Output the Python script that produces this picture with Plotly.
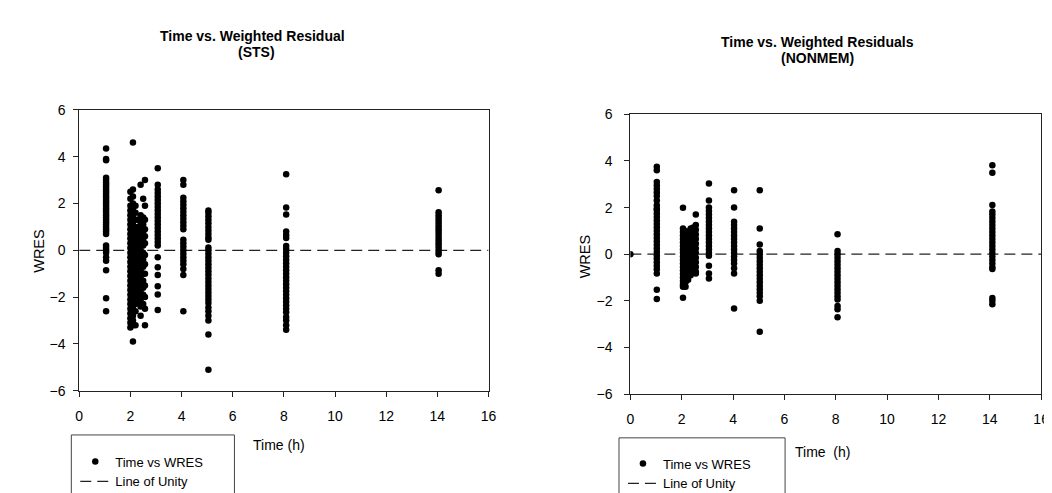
import plotly.graph_objects as go

# ---------------- Data ----------------
# Left panel: STS   (time in h -> WRES values)
sts_t1 = [4.35, 3.9, 3.85, 3.1, 3.0, 2.9, 2.8, 2.7, 2.6, 2.5, 2.4, 2.3, 2.2, 2.1, 2.0, 1.9, 1.8, 1.7,
          1.6, 1.5, 1.4, 1.3, 1.2, 1.1, 1.0, 0.9, 0.8, 0.7, 0.2, 0.1, 0.0, -0.1, -0.3, -0.45, -0.85,
          -2.05, -2.6]
sts_t2_0 = [2.5, 2.2, 1.9, 1.7, 1.5, 1.3, 1.1, 0.9, 0.7, 0.5, 0.3, 0.1, -0.1, -0.3, -0.5, -0.7, -0.9,
            -1.1, -1.3, -1.5, -1.7, -1.9, -2.1, -2.3, -2.5, -2.7, -2.9, -3.1, -3.3]
sts_t2_1 = [4.6, 2.6, 2.3, 2.0, 1.8, 1.6, 1.4, 1.2, 1.0, 0.8, 0.6, 0.4, 0.2, 0.0, -0.2, -0.4, -0.6,
            -0.8, -1.0, -1.2, -1.4, -1.6, -1.8, -2.0, -2.2, -2.4, -2.6, -2.8, -3.0, -3.2, -3.9]
sts_t2_2 = [1.9, 1.6, 1.3, 1.0, 0.7, 0.4, 0.1, -0.2, -0.5, -0.8, -1.1, -1.4, -1.7, -2.0, -2.3, -2.6, -3.2]
sts_t2_3 = [1.3, 1.0, 0.8, 0.5, 0.2, -0.1, -0.4, -0.7, -1.0, -1.3, -1.6, -1.9, -2.2]
sts_t2_4 = [2.8, 1.5, 1.2, 0.9, 0.6, 0.3, 0.0, -0.3, -0.6, -0.9, -1.2, -1.5, -1.8, -2.1, -2.4, -2.8]
sts_t2_5 = [2.2, 1.4, 1.1, 0.8, 0.5, 0.2, -0.1, -0.4, -0.7, -1.0, -1.3, -1.6, -1.9, -2.3]
sts_t2_55 = [3.0, 1.9, 1.3, 0.9, 0.6, 0.3, -0.2, -0.6, -1.0, -1.5, -2.0, -2.5, -3.2]
sts_t3 = [3.5, 2.8, 2.6, 2.45, 2.3, 2.15, 2.0, 1.85, 1.7, 1.55, 1.4, 1.25, 1.1, 0.95, 0.8, 0.65, 0.5,
          0.35, 0.2, -0.3, -0.72, -1.06, -1.54, -1.89, -2.55]
sts_t4 = [3.0, 2.8, 2.24, 2.1, 1.95, 1.8, 1.65, 1.5, 1.35, 1.2, 1.05, 0.9, 0.45, 0.3, 0.15, 0.0, -0.15,
          -0.3, -0.45, -0.6, -0.8, -1.06, -2.6]
sts_t5 = [1.7, 1.6, 1.45, 1.3, 1.15, 1.0, 0.85, 0.7, 0.55, 0.45, 0.12, 0.0, -0.15, -0.3, -0.45, -0.6,
          -0.75, -0.9, -1.05, -1.2, -1.35, -1.5, -1.65, -1.8, -1.95, -2.1, -2.25, -2.44, -2.6, -2.8,
          -3.0, -3.6, -5.1]
sts_t8 = [3.25, 1.83, 1.53, 0.8, 0.65, 0.52, 0.18, 0.05, -0.1, -0.25, -0.4, -0.55, -0.7, -0.85, -1.0,
          -1.15, -1.3, -1.45, -1.6, -1.75, -1.9, -2.05, -2.2, -2.35, -2.5, -2.65, -2.85, -3.0, -3.2, -3.4]
sts_t14 = [2.56, 1.62, 1.5, 1.38, 1.26, 1.14, 1.02, 0.9, 0.78, 0.66, 0.54, 0.42, 0.3, 0.18, 0.06,
           -0.06, -0.17, -0.85, -1.0]

sts_times = [1.05, 2.0, 2.1, 2.2, 2.3, 2.4, 2.5, 2.57, 3.07, 4.07, 5.05, 8.09, 14.05]
sts_columns = [sts_t1, sts_t2_0, sts_t2_1, sts_t2_2, sts_t2_3, sts_t2_4, sts_t2_5, sts_t2_55,
               sts_t3, sts_t4, sts_t5, sts_t8, sts_t14]

# Right panel: NONMEM
nm_t0 = [0.0]
nm_t1 = [3.75, 3.6, 3.1, 2.95, 2.8, 2.65, 2.5, 2.3, 2.1, 1.95, 1.9, 1.75, 1.6, 1.45, 1.3, 1.15, 1.0,
         0.85, 0.7, 0.55, 0.4, 0.25, 0.1, -0.05, -0.2, -0.35, -0.5, -0.65, -0.83, -1.53, -1.92]
nm_t2_05 = [1.99, 1.1, 0.95, 0.8, 0.65, 0.5, 0.35, 0.2, 0.05, -0.1, -0.25, -0.4, -0.55, -0.7, -0.85,
            -1.0, -1.15, -1.3, -1.4, -1.87]
nm_t2_15 = [1.0, 0.8, 0.6, 0.4, 0.2, 0.0, -0.2, -0.4, -0.6, -0.8, -1.0, -1.2, -1.4]
nm_t2_25 = [0.9, 0.7, 0.5, 0.3, 0.1, -0.1, -0.3, -0.5, -0.7, -0.9, -1.1]
nm_t2_35 = [1.1, 0.9, 0.7, 0.5, 0.3, 0.1, -0.1, -0.3, -0.5, -0.7, -0.9]
nm_t2_45 = [1.15, 0.95, 0.75, 0.55, 0.35, 0.15, -0.05, -0.25, -0.45, -0.65, -0.8]
nm_t2_55 = [1.7, 1.25, 1.05, 0.85, 0.65, 0.45, 0.25, 0.05, -0.15, -0.35, -0.55, -0.75, -0.83]
nm_t3 = [3.03, 2.3, 2.0, 1.85, 1.7, 1.55, 1.4, 1.25, 1.1, 0.95, 0.8, 0.65, 0.5, 0.35, 0.2, 0.05,
         -0.07, -0.5, -0.83, -1.04]
nm_t4 = [2.75, 2.0, 1.39, 1.25, 1.1, 0.95, 0.8, 0.65, 0.5, 0.35, 0.2, 0.05, -0.1, -0.25, -0.4, -0.6,
         -0.83, -2.33]
nm_t5 = [2.75, 1.1, 0.42, 0.14, 0.0, -0.15, -0.3, -0.45, -0.6, -0.75, -0.9, -1.05, -1.2, -1.35, -1.5,
         -1.65, -1.8, -2.0, -3.33]
nm_t8 = [0.86, 0.14, 0.0, -0.15, -0.3, -0.45, -0.6, -0.75, -0.9, -1.05, -1.2, -1.35, -1.5, -1.65,
         -1.8, -1.94, -2.22, -2.36, -2.7]
nm_t14 = [3.82, 3.5, 2.11, 1.83, 1.7, 1.55, 1.4, 1.25, 1.1, 0.95, 0.8, 0.65, 0.5, 0.35, 0.2, 0.05,
          -0.1, -0.25, -0.4, -0.56, -0.63, -1.88, -2.0, -2.15]

nm_times = [0.0, 1.03, 2.05, 2.15, 2.25, 2.35, 2.45, 2.55, 3.06, 4.04, 5.04, 8.07, 14.1]
nm_columns = [nm_t0, nm_t1, nm_t2_05, nm_t2_15, nm_t2_25, nm_t2_35, nm_t2_45, nm_t2_55,
              nm_t3, nm_t4, nm_t5, nm_t8, nm_t14]

unity_x = [0, 16]
unity_y = [0, 0]

x_ticks = [0, 2, 4, 6, 8, 10, 12, 14, 16]
y_ticks = [-6, -4, -2, 0, 2, 4, 6]

# ---------------- Build ----------------
def flatten(times, cols):
    xs, ys = [], []
    for t, col in zip(times, cols):
        for v in col:
            xs.append(t)
            ys.append(v)
    return xs, ys

sx, sy = flatten(sts_times, sts_columns)
nx, ny = flatten(nm_times, nm_columns)

FONT = "Liberation Sans, Arial, sans-serif"
W, H = 1052, 493

fig = go.Figure()

# Left panel
fig.add_trace(go.Scatter(x=unity_x, y=unity_y, mode="lines", name="Line of Unity",
                         line=dict(color="#222", width=1.3, dash="11px,6px"),
                         xaxis="x", yaxis="y", legend="legend", legendrank=2))
fig.add_trace(go.Scatter(x=sx, y=sy, mode="markers", name="Time vs WRES",
                         marker=dict(color="black", size=6.5),
                         xaxis="x", yaxis="y", legend="legend", legendrank=1))
# Right panel
fig.add_trace(go.Scatter(x=unity_x, y=unity_y, mode="lines", name="Line of Unity",
                         line=dict(color="#222", width=1.3, dash="11px,6px"),
                         xaxis="x2", yaxis="y2", legend="legend2", legendrank=2))
fig.add_trace(go.Scatter(x=nx, y=ny, mode="markers", name="Time vs WRES",
                         marker=dict(color="black", size=6.5),
                         xaxis="x2", yaxis="y2", legend="legend2", legendrank=1))

axis_common = dict(showgrid=False, zeroline=False, showline=True, mirror=True,
                   linecolor="#222", linewidth=1, ticks="outside", ticklen=5,
                   tickcolor="#222", tickfont=dict(family=FONT, size=14, color="black"))

def px_x(p):
    return p / W

def px_y(p):
    return 1 - p / H

legend_common = dict(xanchor="left", yanchor="top", borderwidth=0, bgcolor="rgba(0,0,0,0)",
                     font=dict(family=FONT, size=13, color="black"),
                     tracegroupgap=0, itemwidth=30)

fig.update_layout(
    width=W, height=H,
    margin=dict(l=0, r=0, t=0, b=0),
    paper_bgcolor="white", plot_bgcolor="white",
    font=dict(family=FONT, color="black"),
    xaxis=dict(domain=[px_x(68), px_x(482)], range=[0, 16], tickvals=x_ticks, anchor="y",
               ticklabelstandoff=7, **axis_common),
    yaxis=dict(domain=[px_y(387.3), px_y(97)], range=[-6, 6], tickvals=y_ticks, anchor="x",
               ticklabelstandoff=5, **axis_common),
    xaxis2=dict(domain=[px_x(625.5), px_x(1041)], range=[0, 16], tickvals=x_ticks, anchor="y2",
                ticklabelstandoff=7, **axis_common),
    yaxis2=dict(domain=[px_y(390.7), px_y(101.7)], range=[-6, 6], tickvals=y_ticks, anchor="x2",
                ticklabelstandoff=9, **axis_common),
    legend=dict(x=px_x(64), y=px_y(445), **legend_common),
    legend2=dict(x=px_x(618), y=px_y(447), **legend_common),
    showlegend=True,
)

# Legend frames (open at the bottom, running off the picture like the scan)
for x0, x1, y0 in [(60, 225, 433), (614, 782, 436)]:
    fig.add_shape(type="rect", xref="paper", yref="paper",
                  x0=px_x(x0), x1=px_x(x1), y0=px_y(y0), y1=px_y(505),
                  line=dict(color="#444", width=1), fillcolor="rgba(0,0,0,0)", layer="below")

def ann(text, x, y, size, bold=False, angle=0):
    fig.add_annotation(text=f"<b>{text}</b>" if bold else text,
                       x=px_x(x), y=px_y(y), xref="paper", yref="paper",
                       xanchor="center", yanchor="middle", showarrow=False,
                       textangle=angle, font=dict(family=FONT, size=size, color="black"))

# Titles
ann("Time vs. Weighted Residual", 243, 21, 14, bold=True)
ann("(STS)", 247, 37, 14, bold=True)
ann("Time vs. Weighted Residuals", 815, 27, 14, bold=True)
ann("(NONMEM)", 815, 43, 14, bold=True)
# Axis titles
ann("WRES", 27, 243, 14.5, angle=-90)
ann("WRES", 580, 248, 14.5, angle=-90)
ann("Time (h)", 270, 443, 14)
ann("Time  (h)", 820, 451, 14)

fig.write_html("out.html", config={"displayModeBar": False})
